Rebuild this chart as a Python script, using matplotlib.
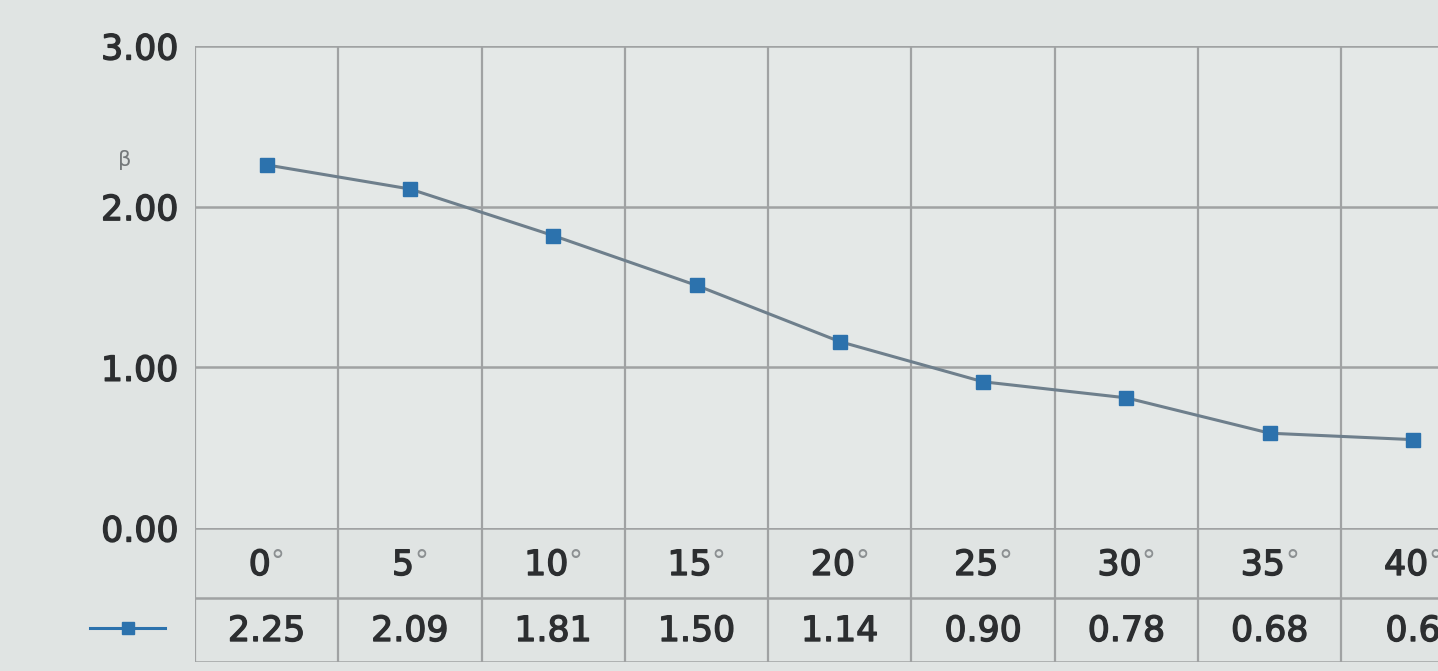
import matplotlib
matplotlib.use("Agg")
import matplotlib.pyplot as plt
import matplotlib.patheffects as pe
from matplotlib.lines import Line2D
from matplotlib.offsetbox import TextArea, HPacker, AnnotationBbox

# ---- data ----
angles = ["0°", "5°", "10°", "15°", "20°", "25°", "30°", "35°", "40°"]
beta_plotted = [2.26, 2.11, 1.82, 1.51, 1.16, 0.91, 0.81, 0.59, 0.55]
beta_table = ["2.25", "2.09", "1.81", "1.50", "1.14", "0.90", "0.78", "0.68", "0.6"]
y_ticks = [0.0, 1.0, 2.0, 3.0]
y_tick_labels = ["0.00", "1.00", "2.00", "3.00"]
y_label = "β"

W, H = 1438, 671
bg = "#e0e4e3"
plot_bg = "#e4e8e7"
grid_c = "#a0a2a3"
text_c = "#2c2e30"
deg_c = "#8c9092"
line_c = "#6e7f8c"
mark_c = "#2c72ad"
FS = 25
semi = [pe.withStroke(linewidth=1.0, foreground=text_c)]

plt.rcParams['font.family'] = ['DejaVu Sans']
fig = plt.figure(figsize=(W / 100, H / 100), dpi=100, facecolor=bg)

n = len(angles)
col_w = 143.3
left_px = 195
right_px = left_px + col_w * n
ax_left = left_px / W
ax_w = (right_px - left_px) / W

# main plot area: y 46 (3.00) -> 528 (0.00)
ax = fig.add_axes([ax_left, 1 - 528 / H, ax_w, (528 - 46) / H])
ax.set_facecolor(plot_bg)
ax.set_xlim(-0.5, n - 0.5)
ax.set_ylim(0, 3)
for s in ax.spines.values():
    s.set_visible(False)
ax.set_xticks([])
ax.set_yticks(y_ticks)
ax.set_yticklabels(y_tick_labels, fontsize=FS, color=text_c)
ax.tick_params(axis='y', length=0, pad=12)
for lab in ax.get_yticklabels():
    lab.set_verticalalignment('center_baseline')
    lab.set_path_effects(semi)
for yv in y_ticks[1:]:
    ax.axhline(yv, color=grid_c, lw=1.8, zorder=1)
for i in range(n + 1):
    ax.axvline(i - 0.5, color=grid_c, lw=1.6, zorder=1)
ax.plot(range(n), beta_plotted, color=line_c, lw=2.2, zorder=3,
        marker='s', markersize=10, markerfacecolor=mark_c, markeredgecolor=mark_c)
fig.text(125 / W, 1 - 160 / H, y_label, fontsize=15, color="#75797b",
         ha='center', va='center')

# data table: y 528 -> 662
tab = fig.add_axes([ax_left, 1 - 662 / H, ax_w, (662 - 528) / H])
tab.set_facecolor(plot_bg)
tab.set_xlim(-0.5, n - 0.5)
tab.set_ylim(0, 134)
tab.axis('off')
for yv in [0, 64, 134]:
    tab.axhline(yv, color=grid_c, lw=1.8)
for i in range(n + 1):
    tab.axvline(i - 0.5, color=grid_c, lw=1.6)
for i in range(n):
    num = angles[i].rstrip("°")
    t1 = TextArea(num, textprops=dict(fontsize=FS, color=text_c, path_effects=semi))
    t2 = TextArea("°", textprops=dict(fontsize=FS - 5, color=deg_c))
    pack = HPacker(children=[t1, t2], sep=0, pad=0, align='top')
    ab = AnnotationBbox(pack, (i, 97), xycoords='data', frameon=False,
                        box_alignment=(0.5, 0.5), pad=0)
    tab.add_artist(ab)
    tab.text(i, 31, beta_table[i], ha='center', va='center', fontsize=FS,
             color=text_c, path_effects=semi)

# legend key
fig.add_artist(Line2D([90 / W, 165 / W], [1 - 628 / H, 1 - 628 / H],
                      transform=fig.transFigure, color=mark_c, lw=2.2))
fig.add_artist(Line2D([127.5 / W], [1 - 628 / H], transform=fig.transFigure,
                      marker='s', markersize=9, color=mark_c, lw=0))

fig.savefig("out.png", dpi=100, facecolor=bg)
